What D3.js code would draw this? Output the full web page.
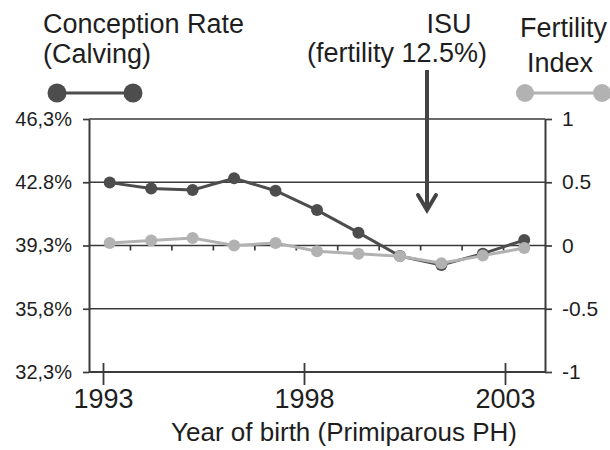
<!DOCTYPE html>
<html>
<head>
<meta charset="utf-8">
<script src="https://cdn.jsdelivr.net/npm/d3@7"></script>
<style>
  html, body { margin: 0; padding: 0; background: #fff; }
  svg text { font-family: "Liberation Sans", Arial, sans-serif; fill: #1e1e1e; }
</style>
</head>
<body>
<svg id="chart" width="610" height="450"></svg>
<script>
// ---- data ----
const years = [1993, 1994, 1995, 1996, 1997, 1998, 1999, 2000, 2001, 2002, 2003];
const conceptionRate = [42.78, 42.46, 42.37, 43.02, 42.33, 41.26, 40.01, 38.72, 38.22, 38.85, 39.6];
const fertilityIndex = [0.02, 0.04, 0.06, 0.0, 0.02, -0.045, -0.065, -0.085, -0.14, -0.08, -0.02];
const leftTickValues = [46.3, 42.8, 39.3, 35.8, 32.3];
const leftTickLabels = ["46,3%", "42.8%", "39,3%", "35,8%", "32,3%"];
const rightTickValues = [1, 0.5, 0, -0.5, -1];
const rightTickLabels = ["1", "0.5", "0", "-0.5", "-1"];
const xLabelYears = [1993, 1998, 2003];

// ---- layout ----
const L = 89, R = 545, T = 119, B = 372;
const dark = "#4d4d4d", light = "#b2b2b2", axisCol = "#3a3a3a";

const svg = d3.select("#chart");

const x = d3.scaleBand().domain(years).range([L, R]).padding(0);
const cx = d => x(d) + x.bandwidth() / 2;
const xLab = d3.scaleLinear().domain([1993, 2003]).range([103, 505]);
const yL = d3.scaleLinear().domain([32.3, 46.3]).range([B, T]);
const yR = d3.scaleLinear().domain([-1, 1]).range([B, T]);

// gridlines
svg.append("g").selectAll("line").data(leftTickValues).join("line")
  .attr("x1", L).attr("x2", R)
  .attr("y1", d => yL(d)).attr("y2", d => yL(d))
  .attr("stroke", axisCol).attr("stroke-width", 1.7);

// small category ticks on the zero line
svg.append("g").selectAll("line").data(years.slice(1)).join("line")
  .attr("x1", d => x(d)).attr("x2", d => x(d))
  .attr("y1", yR(0)).attr("y2", yR(0) + 5)
  .attr("stroke", axisCol).attr("stroke-width", 1.7);

// left axis
const gL = svg.append("g").attr("transform", `translate(${L},0)`)
  .call(d3.axisLeft(yL).tickValues(leftTickValues)
    .tickFormat((d, i) => leftTickLabels[i]).tickSizeInner(6).tickSizeOuter(0).tickPadding(11));
gL.select(".domain").attr("stroke", axisCol).attr("stroke-width", 2);
gL.selectAll(".tick line").attr("stroke", axisCol).attr("stroke-width", 1.7);
gL.selectAll(".tick text").attr("font-size", 20);

// right axis
const gR = svg.append("g").attr("transform", `translate(${R},0)`)
  .call(d3.axisRight(yR).tickValues(rightTickValues)
    .tickFormat((d, i) => rightTickLabels[i]).tickSizeInner(7).tickSizeOuter(0).tickPadding(10));
gR.select(".domain").attr("stroke", axisCol).attr("stroke-width", 2);
gR.selectAll(".tick line").attr("stroke", axisCol).attr("stroke-width", 1.7);
gR.selectAll(".tick text").attr("font-size", 21);

// bottom axis
const gB = svg.append("g").attr("transform", `translate(0,${B})`)
  .call(d3.axisBottom(xLab).tickValues(xLabelYears).tickFormat(d3.format("d"))
    .tickSizeInner(13).tickSizeOuter(0).tickPadding(4));
gB.select(".domain").attr("d", `M${L},0H${R}`).attr("stroke", axisCol).attr("stroke-width", 2);
gB.selectAll(".tick line").attr("y1", -9).attr("stroke", axisCol).attr("stroke-width", 1.8);
gB.selectAll(".tick text").attr("font-size", 27);

svg.append("text").attr("x", 344).attr("y", 441).attr("text-anchor", "middle")
  .attr("font-size", 26).text("Year of birth (Primiparous PH)");

// series: conception rate
svg.append("path").datum(years)
  .attr("d", d3.line().x(d => cx(d)).y((d, i) => yL(conceptionRate[i])))
  .attr("fill", "none").attr("stroke", dark).attr("stroke-width", 3);
svg.append("g").selectAll("circle").data(years).join("circle")
  .attr("cx", d => cx(d)).attr("cy", (d, i) => yL(conceptionRate[i])).attr("r", 6)
  .attr("fill", dark);

// series: fertility index
svg.append("path").datum(years)
  .attr("d", d3.line().x(d => cx(d)).y((d, i) => yR(fertilityIndex[i])))
  .attr("fill", "none").attr("stroke", light).attr("stroke-width", 3);
svg.append("g").selectAll("circle").data(years).join("circle")
  .attr("cx", d => cx(d)).attr("cy", (d, i) => yR(fertilityIndex[i])).attr("r", 6)
  .attr("fill", light);

// legend: conception rate
svg.append("text").attr("x", 43).attr("y", 33).attr("font-size", 27).text("Conception Rate");
svg.append("text").attr("x", 43).attr("y", 63).attr("font-size", 27).text("(Calving)");
svg.append("line").attr("x1", 57).attr("x2", 133).attr("y1", 93).attr("y2", 93)
  .attr("stroke", dark).attr("stroke-width", 3);
svg.append("g").selectAll("circle").data([57, 133]).join("circle")
  .attr("cx", d => d).attr("cy", 93).attr("r", 9.5).attr("fill", dark);

// legend: fertility index
svg.append("text").attr("x", 520).attr("y", 37).attr("font-size", 27).text("Fertility");
svg.append("text").attr("x", 527).attr("y", 72).attr("font-size", 27).text("Index");
svg.append("line").attr("x1", 525).attr("x2", 602).attr("y1", 93).attr("y2", 93)
  .attr("stroke", light).attr("stroke-width", 3);
svg.append("g").selectAll("circle").data([525, 602]).join("circle")
  .attr("cx", d => d).attr("cy", 93).attr("r", 9).attr("fill", light);

// ISU annotation
svg.append("text").attr("x", 449).attr("y", 33).attr("text-anchor", "middle")
  .attr("font-size", 27).text("ISU");
svg.append("text").attr("x", 487).attr("y", 62).attr("text-anchor", "end")
  .attr("font-size", 27).text("(fertility 12.5%)");
svg.append("line").attr("x1", 427).attr("x2", 427).attr("y1", 70).attr("y2", 210)
  .attr("stroke", "#444").attr("stroke-width", 4);
svg.append("path").attr("d", "M418,195L427,210L436,195")
  .attr("fill", "none").attr("stroke", "#444").attr("stroke-width", 4)
  .attr("stroke-linejoin", "miter").attr("stroke-linecap", "round");
</script>
</body>
</html>
